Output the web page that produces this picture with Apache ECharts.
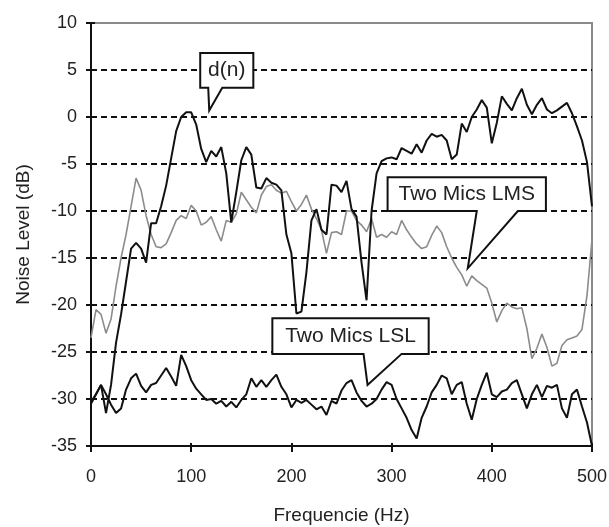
<!DOCTYPE html>
<html>
<head>
<meta charset="utf-8">
<script src="https://cdn.jsdelivr.net/npm/echarts@6/dist/echarts.min.js"></script>
<style>
  html, body { margin: 0; background: #fff; }
  #chart { width: 609px; height: 527px; }
</style>
</head>
<body>
<div id="chart"></div>
<script>
  // frequency axis (Hz), 5 Hz steps
  const freqHz = [
    0, 5, 10, 15, 20, 25, 30, 35, 40, 45,
    50, 55, 60, 65, 70, 75, 80, 85, 90, 95,
    100, 105, 110, 115, 120, 125, 130, 135, 140, 145,
    150, 155, 160, 165, 170, 175, 180, 185, 190, 195,
    200, 205, 210, 215, 220, 225, 230, 235, 240, 245,
    250, 255, 260, 265, 270, 275, 280, 285, 290, 295,
    300, 305, 310, 315, 320, 325, 330, 335, 340, 345,
    350, 355, 360, 365, 370, 375, 380, 385, 390, 395,
    400, 405, 410, 415, 420, 425, 430, 435, 440, 445,
    450, 455, 460, 465, 470, 475, 480, 485, 490, 495,
    500,
  ];

  // d(n)
  const dnLevel = [
    -30.5, -29.5, -28.5, -31.5, -28.5, -24, -21, -17.5, -14, -13.4,
    -14, -15.5, -11.3, -11.3, -9.5, -7.3, -4.4, -1.5, 0, 0.5,
    0.5, -0.8, -3.4, -4.8, -3.6, -4.2, -3.2, -6, -11.2, -8,
    -4.6, -3.2, -4, -7.5, -7.6, -6.5, -7, -7.2, -7.8, -12.5,
    -14.5, -20.9, -20.7, -16.5, -11, -9.8, -12, -12.5, -7.2, -7.3,
    -8, -6.8, -9.8, -10.6, -15.5, -19.5, -10, -6, -4.7, -4.4,
    -4.3, -4.5, -3.3, -3.6, -3.9, -2.9, -3.8, -2.5, -1.8, -2.1,
    -1.9, -2.5, -4.5, -4, -0.7, -1.6, 0, 0.8, 1.8, 1,
    -2.8, -0.6, 2.2, 1.4, 0.7, 2, 3, 1.3, 0.3, 1.3,
    2, 0.8, 0.4, 0.7, 1.1, 1.5, 0.4, -1, -2.5, -4.8,
    -9.5,
  ];

  // Two Mics LMS
  const lmsLevel = [
    -23.5, -20.5, -21, -23, -21.5, -18, -15, -12.5, -9.5, -6.5,
    -7.8, -10.5, -12.5, -13.8, -13.9, -13.5, -12.3, -11, -10.5, -10.8,
    -9.4, -10, -11.5, -11.2, -10.6, -12, -13.2, -11, -11.2, -10.3,
    -8, -8.8, -9.6, -10.2, -8.3, -7.4, -7.2, -7.8, -8.1, -7.9,
    -9, -10, -9.3, -8.3, -9.8, -10.8, -12, -14.5, -12.3, -12.2,
    -12.5, -10, -10, -11, -11.5, -12.2, -10.8, -12.8, -12.5, -12.8,
    -12.2, -12.5, -11, -12, -12.8, -13.5, -14, -13.8, -12.6, -11.6,
    -12.3, -13.8, -15, -16, -16.8, -18, -16.9, -17.4, -17.8, -18.2,
    -19.8, -21.8, -20.6, -19.8, -20.2, -20.4, -20.3, -22.5, -25.7, -24.6,
    -23.1, -24.5, -26.5, -26.2, -24.3, -23.7, -23.5, -23.3, -22.6, -19,
    -13,
  ];

  // Two Mics LSL
  const lslLevel = [
    -30.3, -29.5, -28.5, -29.5, -30.6, -31.5, -31, -29, -27.8, -27.3,
    -28.6, -29.3, -28.5, -28.3, -27.5, -26.7, -27.6, -28.6, -25.3, -26.5,
    -28, -28.9, -29.5, -30.1, -30, -30.5, -30.2, -30.8, -30.3, -30.9,
    -30.1, -29.5, -27.8, -28.7, -28, -28.7, -28, -27.4, -28.7, -29.5,
    -30.9, -30.1, -30.4, -30.1, -30.6, -31.1, -30.8, -31.7, -30.2, -30.5,
    -29.1, -28.3, -28, -29.3, -30.2, -30.8, -30.5, -30, -29, -28.2,
    -28.5, -30, -31, -32, -33.3, -34.2, -32, -30.8, -29.3, -28.5,
    -27.5, -27.8, -29.5, -28.5, -28.2, -30.5, -32.2, -30, -28.5, -27.2,
    -29.5, -29.8, -29.2, -29, -28.3, -28, -29.5, -31, -29.5, -28.5,
    -29.8, -28.6, -28.8, -28.5, -31, -32, -29.5, -29, -30.8, -32.5,
    -35,
  ];

  // callout labels, anchored in data units: box [x0, yTop, x1, yBottom], tail base x's, tip point
  const callouts = [
    { text: 'd(n)', box: [109, 6.8, 162, 3.1], tail: [117, 131], tip: [118, 0.7] },
    { text: 'Two Mics LMS', box: [296, -6.4, 454, -10.0], tail: [385, 426], tip: [376, -16.1] },
    { text: 'Two Mics LSL', box: [181, -21.4, 337, -25.2], tail: [272, 310], tip: [276, -28.5] },
  ];

  const FONT = "'Liberation Sans', Arial, sans-serif";
  const pairs = (ys) => freqHz.map((x, i) => [x, ys[i]]);
  const tickStyle = { color: '#111', width: 2 };

  const chart = echarts.init(document.getElementById('chart'), null, { renderer: 'canvas' });
  chart.setOption({
    animation: false,
    backgroundColor: '#fff',
    grid: {
      left: 91, right: 17, top: 23, bottom: 81,
      outerBoundsMode: 'none',
      show: true, backgroundColor: '#fff', borderColor: '#8a8a8a', borderWidth: 2,
    },
    xAxis: [
      {
        type: 'value', min: 0, max: 500, interval: 100,
        name: 'Frequencie (Hz)', nameLocation: 'middle', nameGap: 60,
        nameTextStyle: { fontFamily: FONT, fontSize: 19, color: '#222' },
        axisLine: { onZero: false, lineStyle: { color: '#111', width: 2 } },
        axisTick: { length: 6, lineStyle: tickStyle },
        axisLabel: { margin: 22, fontFamily: FONT, fontSize: 18, color: '#222' },
        splitLine: { show: false },
      },
      {
        // inner half of the crossing ticks
        type: 'value', min: 0, max: 500, interval: 100, position: 'bottom',
        axisLine: { show: false, onZero: false },
        axisTick: { inside: true, length: 3, lineStyle: tickStyle },
        axisLabel: { show: false },
        splitLine: { show: false },
      },
    ],
    yAxis: [
      {
        type: 'value', min: -35, max: 10, interval: 5,
        name: 'Noise Level (dB)', nameLocation: 'middle', nameGap: 58, nameRotate: 90,
        nameTextStyle: { fontFamily: FONT, fontSize: 19, color: '#222' },
        axisLine: { show: true, onZero: false, lineStyle: { color: '#111', width: 2 } },
        axisTick: { show: true, length: 5, lineStyle: tickStyle },
        axisLabel: { margin: 14, fontFamily: FONT, fontSize: 18, color: '#222' },
        splitLine: {
          show: true, showMinLine: false, showMaxLine: false,
          lineStyle: { color: '#111', width: 2, type: [6, 4] },
        },
      },
      {
        type: 'value', min: -35, max: 10, interval: 5, position: 'left',
        axisLine: { show: false, onZero: false },
        axisTick: { show: true, inside: true, length: 4, lineStyle: tickStyle },
        axisLabel: { show: false },
        splitLine: { show: false },
      },
    ],
    series: [
      {
        name: 'Two Mics LMS', type: 'line', data: pairs(lmsLevel),
        showSymbol: false, lineStyle: { color: '#8c8c8c', width: 1.6 },
      },
      {
        name: 'd(n)', type: 'line', data: pairs(dnLevel),
        showSymbol: false, lineStyle: { color: '#111', width: 2 },
      },
      {
        name: 'Two Mics LSL', type: 'line', data: pairs(lslLevel),
        showSymbol: false, lineStyle: { color: '#111', width: 2 },
      },
    ],
  });

  // draw the callout boxes with their pointers
  const px = (p) => chart.convertToPixel({ gridIndex: 0 }, p);
  const graphic = [];
  callouts.forEach((c) => {
    const [x0, yT] = px([c.box[0], c.box[1]]);
    const [x1, yB] = px([c.box[2], c.box[3]]);
    const ta = px([c.tail[0], c.box[3]])[0];
    const tb = px([c.tail[1], c.box[3]])[0];
    const tip = px(c.tip);
    graphic.push({
      type: 'polygon', z: 100,
      shape: { points: [[x0, yT], [x1, yT], [x1, yB], [tb, yB], tip, [ta, yB], [x0, yB]] },
      style: { fill: '#fff', stroke: '#111', lineWidth: 2 },
    });
    graphic.push({
      type: 'text', z: 101,
      x: (x0 + x1) / 2, y: (yT + yB) / 2,
      style: {
        text: c.text, fill: '#222', font: '21px ' + FONT,
        align: 'center', verticalAlign: 'middle',
      },
    });
  });
  chart.setOption({ graphic });
</script>
</body>
</html>
